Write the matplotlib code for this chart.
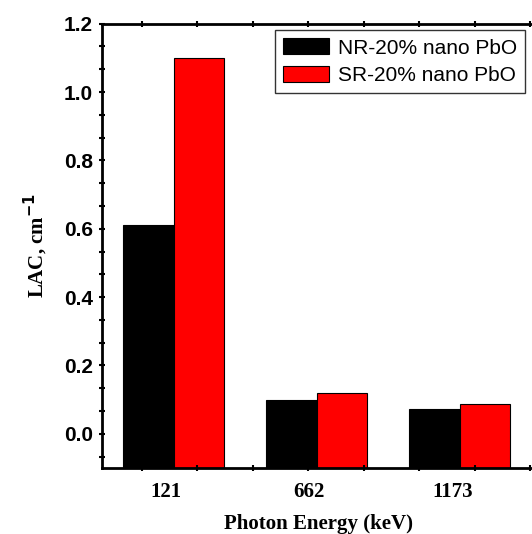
import numpy as np
import matplotlib.pyplot as plt
from matplotlib.ticker import MultipleLocator, FixedLocator

energies = ['121', '662', '1173']
nr_lac = [0.612, 0.100, 0.073]
sr_lac = [1.10, 0.120, 0.088]

ymin, ymax = -0.1, 1.2

fig = plt.figure(figsize=(5.32, 5.34), dpi=100)
# right spine sits just past the canvas edge
ax = fig.add_axes([102/532, 1 - 468/534, 432/532, (468 - 23.7)/534])

x = np.arange(1, len(energies) + 1)
w = 0.35
# bars are filled up from the bottom of the axis
ax.bar(x - w/2, np.array(nr_lac) - ymin, w, bottom=ymin, color='black',
       edgecolor='black', linewidth=0.8, label='NR-20% nano PbO')
ax.bar(x + w/2, np.array(sr_lac) - ymin, w, bottom=ymin, color='red',
       edgecolor='black', linewidth=0.8, label='SR-20% nano PbO')

ax.set_xlim(0.5, 0.5 + 432/143)
ax.set_ylim(ymin, ymax)

# y axis: majors every 0.2, two minors between
ax.yaxis.set_minor_locator(MultipleLocator(0.2/3))
ax.set_yticks(np.arange(0, 1.21, 0.2))
ax.set_yticklabels(['%.1f' % v for v in np.arange(0, 1.21, 0.2)],
                   fontfamily='Liberation Sans', fontweight='bold', fontsize=15)

# x axis: category labels without marks, small ticks along the axis
ax.set_xticks(x - 0.05)
ax.set_xticklabels(energies, fontfamily='Liberation Serif', fontweight='bold',
                   fontsize=15)
ax.xaxis.set_minor_locator(FixedLocator(np.arange(0.78, 3.51, 0.3875)))
ax.tick_params(axis='x', which='major', length=0, pad=10)
ax.tick_params(axis='x', which='minor', direction='inout', length=5, width=1.5,
               top=True)
ax.tick_params(axis='y', which='both', direction='inout', length=5, width=1.5,
               pad=4)

for s in ax.spines.values():
    s.set_linewidth(2)

ax.set_xlabel('Photon Energy (keV)', fontfamily='Liberation Serif',
              fontweight='bold', fontsize=15, labelpad=8.5)
ax.set_ylabel('LAC, cm$^{\\mathbf{-1}}$', fontfamily='Liberation Serif',
              fontweight='bold', fontsize=15, labelpad=10)

leg = ax.legend(loc='upper right', bbox_to_anchor=(423/432, 1 - 6.3/444.3),
                prop={'family': 'Liberation Sans', 'size': 15},
                frameon=True, fancybox=False, edgecolor='black',
                handlelength=2.2, handleheight=0.8, handletextpad=0.4,
                labelspacing=0.4, borderpad=0.4, borderaxespad=0)
leg.get_frame().set_linewidth(1.0)

fig.savefig('out.png', dpi=100)
